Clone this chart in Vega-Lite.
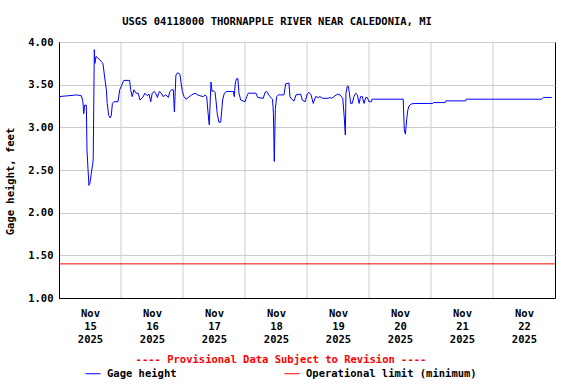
{
  "$schema": "https://vega.github.io/schema/vega-lite/v6.json",
  "width": 496,
  "height": 256,
  "autosize": {"type": "none"},
  "padding": {"left": 59, "top": 42, "right": 21, "bottom": 86},
  "background": "white",
  "config": {
    "font": "DejaVu Sans Mono",
    "view": {"stroke": "black", "strokeWidth": 1}
  },
  "title": {
    "text": "USGS 04118000 THORNAPPLE RIVER NEAR CALEDONIA, MI",
    "font": "DejaVu Sans Mono",
    "fontSize": 10.5,
    "fontWeight": "bold",
    "color": "black",
    "anchor": "middle",
    "dx": -30,
    "offset": 10
  },
  "layer": [
    {
      "data": {"values": [
        {"t": "2025-11-16T00:00"}, {"t": "2025-11-17T00:00"}, {"t": "2025-11-18T00:00"},
        {"t": "2025-11-19T00:00"}, {"t": "2025-11-20T00:00"}, {"t": "2025-11-21T00:00"},
        {"t": "2025-11-22T00:00"}
      ]},
      "mark": {"type": "rule", "color": "#cccccc", "strokeWidth": 1},
      "encoding": {
        "x": {"field": "t", "type": "temporal"}
      }
    },
    {
      "data": {"values": [{"series": "Operational limit (minimum)", "v": 1.4}]},
      "mark": {"type": "rule", "strokeWidth": 1},
      "encoding": {
        "y": {"field": "v", "type": "quantitative"},
        "color": {"field": "series", "type": "nominal"}
      }
    },
    {
      "data": {"values": [
        {"t":"2025-11-15T00:00","v":3.36},{"t":"2025-11-15T03:30","v":3.37},{"t":"2025-11-15T06:45","v":3.38},{"t":"2025-11-15T08:40","v":3.37},{"t":"2025-11-15T09:15","v":3.30},{"t":"2025-11-15T09:35","v":3.16},{"t":"2025-11-15T09:55","v":3.26},{"t":"2025-11-15T10:35","v":3.26},{"t":"2025-11-15T10:50","v":2.73},{"t":"2025-11-15T11:15","v":2.50},{"t":"2025-11-15T11:35","v":2.32},{"t":"2025-11-15T12:00","v":2.35},{"t":"2025-11-15T12:30","v":2.46},{"t":"2025-11-15T13:05","v":2.58},{"t":"2025-11-15T13:15","v":2.63},{"t":"2025-11-15T13:40","v":3.91},{"t":"2025-11-15T13:55","v":3.75},{"t":"2025-11-15T14:20","v":3.83},{"t":"2025-11-15T15:05","v":3.81},{"t":"2025-11-15T15:50","v":3.79},{"t":"2025-11-15T16:20","v":3.77},{"t":"2025-11-15T17:00","v":3.75},{"t":"2025-11-15T17:40","v":3.59},{"t":"2025-11-15T18:20","v":3.44},{"t":"2025-11-15T18:40","v":3.28},{"t":"2025-11-15T19:15","v":3.14},{"t":"2025-11-15T19:50","v":3.11},{"t":"2025-11-15T20:15","v":3.14},{"t":"2025-11-15T20:40","v":3.28},{"t":"2025-11-15T21:15","v":3.30},{"t":"2025-11-15T22:50","v":3.30},{"t":"2025-11-15T23:30","v":3.44},
        {"t":"2025-11-16T00:05","v":3.48},{"t":"2025-11-16T01:05","v":3.55},{"t":"2025-11-16T03:20","v":3.55},{"t":"2025-11-16T03:45","v":3.44},{"t":"2025-11-16T04:20","v":3.36},{"t":"2025-11-16T05:00","v":3.44},{"t":"2025-11-16T05:50","v":3.40},{"t":"2025-11-16T06:40","v":3.40},{"t":"2025-11-16T07:20","v":3.32},{"t":"2025-11-16T08:25","v":3.35},{"t":"2025-11-16T09:15","v":3.40},{"t":"2025-11-16T10:10","v":3.37},{"t":"2025-11-16T10:50","v":3.39},{"t":"2025-11-16T11:30","v":3.30},{"t":"2025-11-16T12:05","v":3.40},{"t":"2025-11-16T12:55","v":3.42},{"t":"2025-11-16T13:35","v":3.39},{"t":"2025-11-16T14:05","v":3.35},{"t":"2025-11-16T14:50","v":3.42},{"t":"2025-11-16T15:35","v":3.40},{"t":"2025-11-16T16:20","v":3.36},{"t":"2025-11-16T17:20","v":3.38},{"t":"2025-11-16T18:20","v":3.35},{"t":"2025-11-16T18:55","v":3.42},{"t":"2025-11-16T19:40","v":3.44},{"t":"2025-11-16T20:15","v":3.44},{"t":"2025-11-16T20:40","v":3.18},{"t":"2025-11-16T20:55","v":3.36},{"t":"2025-11-16T21:15","v":3.61},{"t":"2025-11-16T21:55","v":3.64},{"t":"2025-11-16T22:50","v":3.62},{"t":"2025-11-16T23:15","v":3.52},{"t":"2025-11-16T23:45","v":3.42},
        {"t":"2025-11-17T00:25","v":3.36},{"t":"2025-11-17T01:10","v":3.33},{"t":"2025-11-17T02:05","v":3.35},{"t":"2025-11-17T03:20","v":3.38},{"t":"2025-11-17T04:40","v":3.40},{"t":"2025-11-17T05:40","v":3.38},{"t":"2025-11-17T06:35","v":3.37},{"t":"2025-11-17T07:50","v":3.36},{"t":"2025-11-17T08:30","v":3.38},{"t":"2025-11-17T09:10","v":3.36},{"t":"2025-11-17T09:40","v":3.18},{"t":"2025-11-17T10:10","v":3.03},{"t":"2025-11-17T10:50","v":3.53},{"t":"2025-11-17T11:15","v":3.42},{"t":"2025-11-17T11:45","v":3.43},{"t":"2025-11-17T12:25","v":3.41},{"t":"2025-11-17T12:45","v":3.32},{"t":"2025-11-17T13:15","v":3.16},{"t":"2025-11-17T13:55","v":3.06},{"t":"2025-11-17T14:35","v":3.06},{"t":"2025-11-17T15:00","v":3.20},{"t":"2025-11-17T15:20","v":3.32},{"t":"2025-11-17T16:00","v":3.40},{"t":"2025-11-17T16:55","v":3.42},{"t":"2025-11-17T19:30","v":3.42},{"t":"2025-11-17T19:50","v":3.36},{"t":"2025-11-17T20:15","v":3.52},{"t":"2025-11-17T20:45","v":3.57},{"t":"2025-11-17T21:15","v":3.57},{"t":"2025-11-17T21:40","v":3.40},{"t":"2025-11-17T22:20","v":3.32},
        {"t":"2025-11-18T00:00","v":3.30},{"t":"2025-11-18T00:40","v":3.36},{"t":"2025-11-18T01:15","v":3.40},{"t":"2025-11-18T04:15","v":3.40},{"t":"2025-11-18T04:55","v":3.35},{"t":"2025-11-18T07:05","v":3.34},{"t":"2025-11-18T07:45","v":3.41},{"t":"2025-11-18T08:25","v":3.42},{"t":"2025-11-18T09:00","v":3.39},{"t":"2025-11-18T09:40","v":3.36},{"t":"2025-11-18T10:40","v":3.33},{"t":"2025-11-18T11:00","v":3.16},{"t":"2025-11-18T11:20","v":2.60},{"t":"2025-11-18T11:45","v":3.22},{"t":"2025-11-18T12:15","v":3.36},{"t":"2025-11-18T12:55","v":3.38},{"t":"2025-11-18T15:05","v":3.38},{"t":"2025-11-18T15:45","v":3.51},{"t":"2025-11-18T17:00","v":3.52},{"t":"2025-11-18T17:25","v":3.36},{"t":"2025-11-18T18:05","v":3.33},{"t":"2025-11-18T19:00","v":3.31},{"t":"2025-11-18T19:45","v":3.38},{"t":"2025-11-18T21:35","v":3.39},{"t":"2025-11-18T22:10","v":3.32},{"t":"2025-11-18T23:15","v":3.30},
        {"t":"2025-11-19T00:05","v":3.39},{"t":"2025-11-19T00:45","v":3.41},{"t":"2025-11-19T01:35","v":3.38},{"t":"2025-11-19T02:25","v":3.28},{"t":"2025-11-19T03:20","v":3.36},{"t":"2025-11-19T04:20","v":3.35},{"t":"2025-11-19T05:00","v":3.36},{"t":"2025-11-19T06:05","v":3.34},{"t":"2025-11-19T08:15","v":3.34},{"t":"2025-11-19T08:55","v":3.35},{"t":"2025-11-19T09:35","v":3.34},{"t":"2025-11-19T10:50","v":3.37},{"t":"2025-11-19T11:55","v":3.39},{"t":"2025-11-19T12:45","v":3.38},{"t":"2025-11-19T13:50","v":3.34},{"t":"2025-11-19T14:25","v":3.12},{"t":"2025-11-19T14:50","v":2.91},{"t":"2025-11-19T15:05","v":3.40},{"t":"2025-11-19T15:35","v":3.48},{"t":"2025-11-19T16:00","v":3.48},{"t":"2025-11-19T16:25","v":3.40},{"t":"2025-11-19T16:55","v":3.28},{"t":"2025-11-19T17:30","v":3.28},{"t":"2025-11-19T18:10","v":3.36},{"t":"2025-11-19T18:50","v":3.40},{"t":"2025-11-19T19:30","v":3.38},{"t":"2025-11-19T20:10","v":3.28},{"t":"2025-11-19T20:45","v":3.36},{"t":"2025-11-19T21:25","v":3.36},{"t":"2025-11-19T22:05","v":3.28},{"t":"2025-11-19T22:45","v":3.35},{"t":"2025-11-19T23:20","v":3.35},
        {"t":"2025-11-20T00:00","v":3.30},{"t":"2025-11-20T00:55","v":3.30},{"t":"2025-11-20T01:10","v":3.33},{"t":"2025-11-20T13:15","v":3.33},{"t":"2025-11-20T13:40","v":2.97},{"t":"2025-11-20T14:05","v":2.92},{"t":"2025-11-20T14:35","v":3.09},{"t":"2025-11-20T15:00","v":3.20},{"t":"2025-11-20T15:30","v":3.25},{"t":"2025-11-20T16:10","v":3.27},{"t":"2025-11-20T17:10","v":3.28},
        {"t":"2025-11-21T00:40","v":3.28},{"t":"2025-11-21T00:55","v":3.29},{"t":"2025-11-21T05:25","v":3.29},{"t":"2025-11-21T05:40","v":3.31},{"t":"2025-11-21T13:25","v":3.31},{"t":"2025-11-21T13:40","v":3.33},
        {"t":"2025-11-22T18:50","v":3.33},{"t":"2025-11-22T19:30","v":3.35},{"t":"2025-11-22T22:45","v":3.35}
      ]},
      "transform": [{"calculate": "'Gage height'", "as": "series"}],
      "mark": {"type": "line", "strokeWidth": 1, "interpolate": "linear"},
      "encoding": {
        "x": {
          "field": "t",
          "type": "temporal",
          "scale": {"domain": [
            {"year": 2025, "month": 11, "date": 15},
            {"year": 2025, "month": 11, "date": 23}
          ]},
          "axis": {
            "title": null,
            "grid": false,
            "ticks": false,
            "domainColor": "black",
            "values": [
              {"year": 2025, "month": 11, "date": 15, "hours": 12},
              {"year": 2025, "month": 11, "date": 16, "hours": 12},
              {"year": 2025, "month": 11, "date": 17, "hours": 12},
              {"year": 2025, "month": 11, "date": 18, "hours": 12},
              {"year": 2025, "month": 11, "date": 19, "hours": 12},
              {"year": 2025, "month": 11, "date": 20, "hours": 12},
              {"year": 2025, "month": 11, "date": 21, "hours": 12},
              {"year": 2025, "month": 11, "date": 22, "hours": 12}
            ],
            "labelExpr": "[timeFormat(datum.value, '%b'), timeFormat(datum.value, '%d'), timeFormat(datum.value, '%Y')]",
            "labelFont": "DejaVu Sans Mono",
            "labelFontSize": 10.5,
            "labelFontWeight": "bold",
            "labelColor": "black",
            "labelLineHeight": 13,
            "labelPadding": 10,
            "labelAlign": "center",
            "labelFlush": false,
            "labelOverlap": false
          }
        },
        "y": {
          "field": "v",
          "type": "quantitative",
          "scale": {"domain": [1, 4], "nice": false, "zero": false},
          "axis": {
            "title": "Gage height, feet",
            "titleFont": "DejaVu Sans Mono",
            "titleFontSize": 10.5,
            "titleFontWeight": "bold",
            "titleColor": "black",
            "titleY": 139,
            "titlePadding": 12,
            "values": [1, 1.5, 2, 2.5, 3, 3.5, 4],
            "format": ".2f",
            "ticks": false,
            "domainColor": "black",
            "gridColor": "#cccccc",
            "labelFont": "DejaVu Sans Mono",
            "labelFontSize": 10.5,
            "labelFontWeight": "bold",
            "labelColor": "black",
            "labelPadding": 6
          }
        },
        "color": {
          "field": "series",
          "type": "nominal",
          "scale": {
            "domain": ["Gage height", "Operational limit (minimum)"],
            "range": ["#0000ff", "#ff0000"]
          },
          "legend": {
            "orient": "none",
            "legendX": 26,
            "legendY": 313,
            "direction": "horizontal",
            "title": "---- Provisional Data Subject to Revision ----",
            "titleColor": "#ff0000",
            "titleFont": "DejaVu Sans Mono",
            "titleFontSize": 10.5,
            "titleFontWeight": "bold",
            "titleAnchor": "middle",
            "titlePadding": 0,
            "titleLimit": 600,
            "symbolType": "stroke",
            "symbolSize": 225,
            "symbolStrokeWidth": 1,
            "labelFont": "DejaVu Sans Mono",
            "labelFontSize": 10.5,
            "labelFontWeight": "bold",
            "labelColor": "black",
            "labelOffset": 6,
            "labelLimit": 400,
            "columnPadding": 105
          }
        }
      }
    }
  ]
}
